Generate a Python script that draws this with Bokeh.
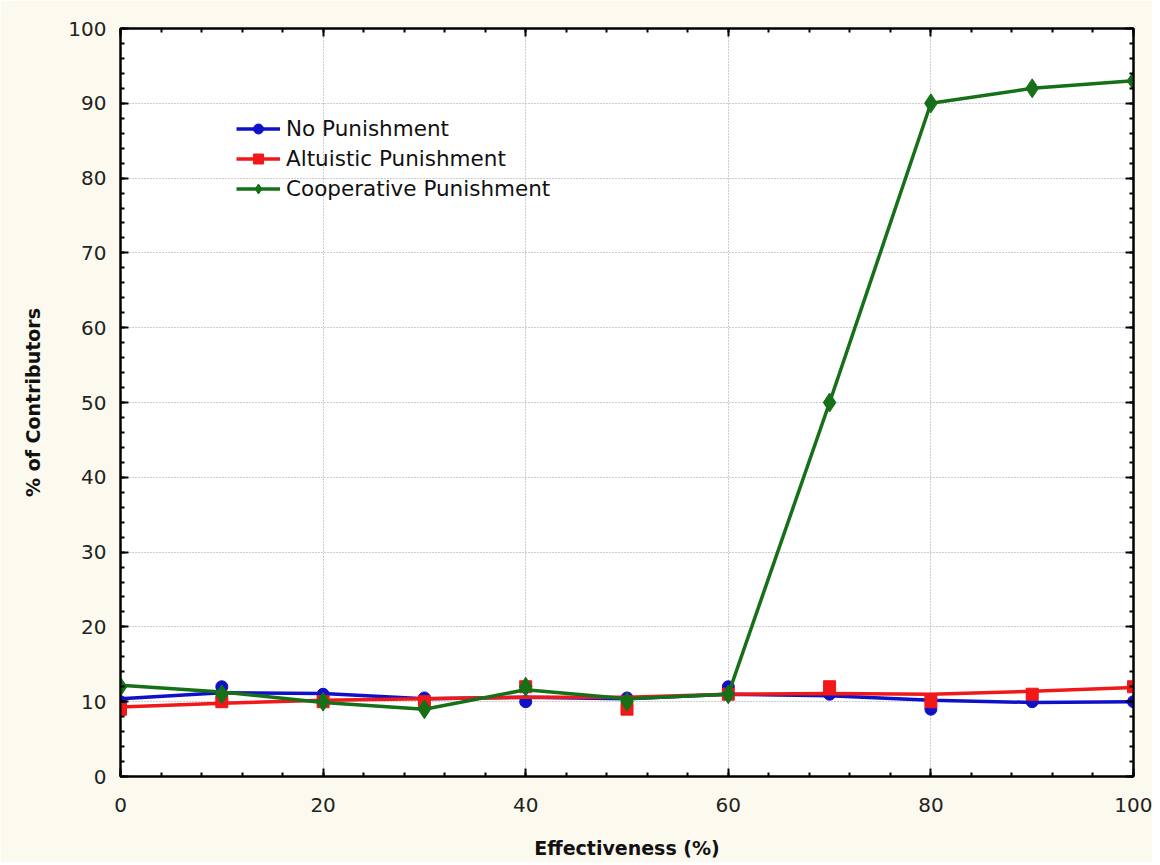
from bokeh.plotting import figure
from bokeh.models import (Range1d, LinearAxis, Legend, LegendItem, FixedTicker)
from bokeh.embed import file_html
from bokeh.resources import INLINE

# ---- data ----
effectiveness = [0, 10, 20, 30, 40, 50, 60, 70, 80, 90, 100]
no_pun = [10, 12, 11, 10.5, 10, 10.5, 12, 11, 9, 10, 10]
alt_pun = [9, 10, 10, 10, 12, 9, 11, 12, 10, 11, 12]
coop_pun = [12, 11, 10, 9, 12, 10, 11, 50, 90, 92, 93]
# smoothed curves drawn by the original program (read at the same x)
no_pun_fit = [10.4, 11.2, 11.1, 10.4, 10.6, 10.4, 11.0, 10.8, 10.2, 9.9, 10.0]
alt_pun_fit = [9.3, 9.8, 10.2, 10.4, 10.6, 10.6, 11.0, 11.1, 11.0, 11.4, 11.9]
coop_pun_fit = [12.2, 11.3, 9.9, 9.0, 11.6, 10.4, 11.0, 50, 90, 92, 93]
series_names = ["No Punishment", "Altuistic Punishment", "Cooperative Punishment"]
x_ticks = [0, 20, 40, 60, 80, 100]
y_ticks = [0, 10, 20, 30, 40, 50, 60, 70, 80, 90, 100]

FONT = "DejaVu Sans"
BG = "#FCF9EE"
colors = ["#1010C8", "#F01818", "#167018"]

p = figure(width=1152, height=862, output_backend="svg", toolbar_location=None,
           x_range=Range1d(0, 100), y_range=Range1d(0, 100),
           min_border_left=120, min_border_right=19, min_border_top=28,
           min_border_bottom=86)
p.border_fill_color = BG
p.background_fill_color = "white"
p.outline_line_color = "black"
p.outline_line_width = 2

for ax in [p.xaxis[0], p.yaxis[0]]:
    ax.axis_line_width = 2
    ax.major_tick_in = 8
    ax.major_tick_out = 0
    ax.minor_tick_in = 4
    ax.minor_tick_out = 0
    ax.major_tick_line_width = 2
    ax.minor_tick_line_width = 2
    ax.major_label_text_font = FONT
    ax.major_label_text_font_size = "20px"
    ax.major_label_text_color = "#222222"
    ax.axis_label_text_font = FONT
    ax.axis_label_text_font_size = "19px"
    ax.axis_label_text_font_style = "bold"
    ax.axis_label_text_color = "#111111"

p.xaxis[0].ticker = FixedTicker(ticks=x_ticks, minor_ticks=list(range(0, 101, 4)))
p.yaxis[0].ticker = FixedTicker(ticks=y_ticks, minor_ticks=list(range(0, 101, 2)))
p.xaxis.axis_label = "Effectiveness (%)"
p.yaxis.axis_label = "% of Contributors"
p.xaxis.major_label_standoff = 21
p.xaxis.axis_label_standoff = 22
p.yaxis.major_label_standoff = 14
p.yaxis.axis_label_standoff = 21

# mirrored axes (ticks only)
top = LinearAxis(ticker=FixedTicker(ticks=x_ticks, minor_ticks=list(range(0, 101, 4))))
right = LinearAxis(ticker=FixedTicker(ticks=y_ticks, minor_ticks=list(range(0, 101, 2))))
top.major_label_overrides = {t: "" for t in x_ticks}
right.major_label_overrides = {t: "" for t in y_ticks}
for ax in [top, right]:
    ax.major_label_standoff = 0
    ax.axis_line_width = 2
    ax.major_tick_in = 8
    ax.major_tick_out = 0
    ax.minor_tick_in = 4
    ax.minor_tick_out = 0
    ax.major_tick_line_width = 2
    ax.minor_tick_line_width = 2
p.add_layout(top, "above")
p.add_layout(right, "right")

p.xgrid.ticker = FixedTicker(ticks=x_ticks)
p.ygrid.ticker = FixedTicker(ticks=y_ticks)
for g in [p.xgrid[0], p.ygrid[0]]:
    g.grid_line_color = "#9a9a9a"
    g.grid_line_dash = "1 2"
    g.grid_line_width = 1

items = []
fits = [no_pun_fit, alt_pun_fit, coop_pun_fit]
vals = [no_pun, alt_pun, coop_pun]
markers = ["circle", "square", "diamond"]
sizes = [12, 12, 19]
for name, fit, v, c, m, s in zip(series_names, fits, vals, colors, markers, sizes):
    ln = p.line(effectiveness, fit, line_color=c, line_width=3.5)
    sc = p.scatter(effectiveness, v, marker=m, size=s, fill_color=c, line_color=c)
    items.append(LegendItem(label=name, renderers=[ln, sc]))

legend = Legend(items=items, location=(116, 575), background_fill_alpha=0,
                border_line_color=None, label_text_font=FONT,
                label_text_font_size="21.5px", label_text_color="#111111",
                glyph_width=44, glyph_height=25, spacing=5, padding=4,
                label_standoff=6)
p.add_layout(legend, "center")

open("out.html", "w").write(file_html(p, INLINE))
